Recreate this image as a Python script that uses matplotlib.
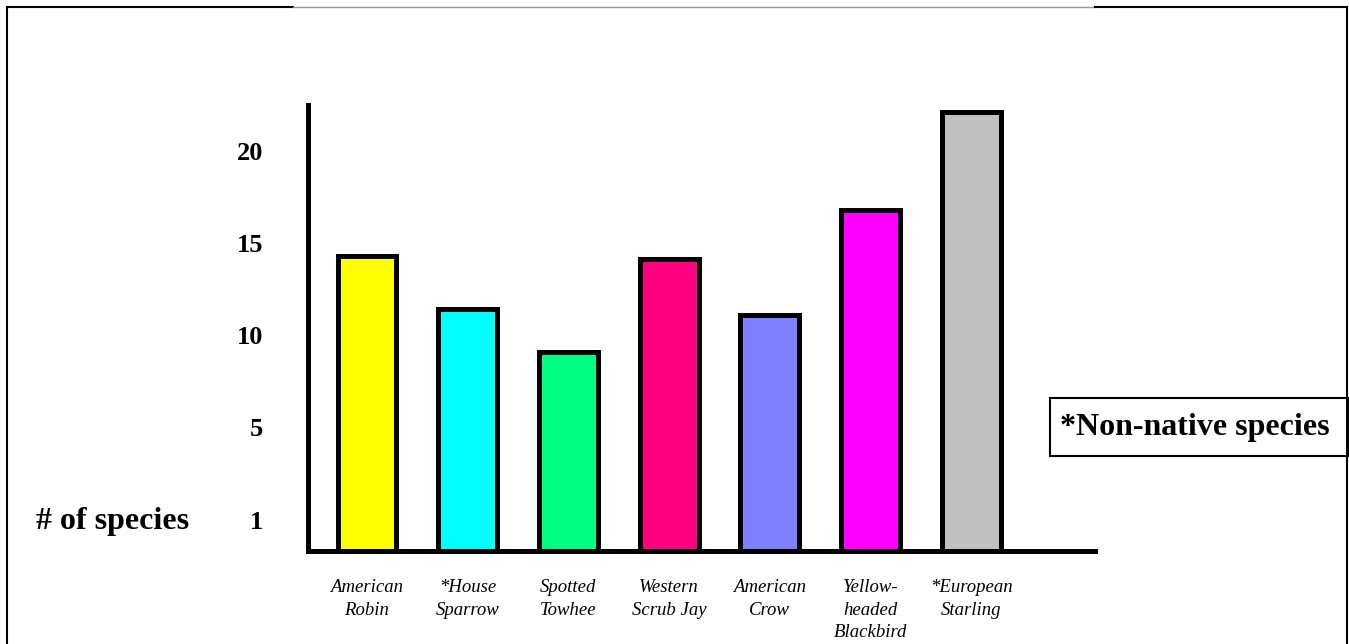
import matplotlib
matplotlib.use("Agg")
import matplotlib.pyplot as plt
from matplotlib.lines import Line2D
from matplotlib.patches import Rectangle

# ---- data ----
categories = ["American\nRobin", "*House\nSparrow", "Spotted\nTowhee",
              "Western\nScrub Jay", "American\nCrow", "Yellow-\nheaded\nBlackbird",
              "*European\nStarling"]
values = [14.3, 11.4, 9.1, 14.1, 11.1, 16.8, 22.1]
colors = ["#FFFF00", "#00FFFF", "#00FF80", "#FF0080", "#8080FF", "#FF00FF", "#C0C0C0"]
ytick_pos = [0, 5, 10, 15, 20]
ytick_labels = ["1", "5", "10", "15", "20"]
ylabel_text = "# of species"
note_text = "*Non-native species"

W, H = 1349, 644
fig = plt.figure(figsize=(W / 100, H / 100), dpi=100)
fig.patch.set_facecolor("white")

ax = fig.add_axes([308 / W, 1 - 551 / H, (1095 - 308) / W, (551 - 105) / H])
ax.set_facecolor("none")

ymin, ymax = -1.7, 22.47
x = list(range(len(categories)))
ax.bar(x, [v - ymin for v in values], bottom=ymin, width=0.585,
       color=colors, edgecolor="black", linewidth=3.6, zorder=2)

ax.set_xlim(-0.586, 7.23)
ax.set_ylim(ymin, ymax)

for s in ["top", "right"]:
    ax.spines[s].set_visible(False)
for s in ["left", "bottom"]:
    ax.spines[s].set_linewidth(3.6)
    ax.spines[s].set_color("black")
    ax.spines[s].set_zorder(3)

ax.set_yticks(ytick_pos)
ax.set_yticklabels(ytick_labels, fontfamily="Liberation Serif",
                   fontweight="bold", fontsize=19)
ax.set_xticks(x)
ax.set_xticklabels(categories, fontfamily="Liberation Serif",
                   fontstyle="italic", fontsize=13.5, linespacing=1.45)
ax.tick_params(axis="y", length=0, pad=32)
ax.tick_params(axis="x", length=0, pad=20)

# y label
fig.text(113 / W, 1 - 522 / H, ylabel_text, ha="center", va="center",
         fontfamily="Liberation Serif", fontweight="bold", fontsize=23)

# note box
fig.patches.append(Rectangle((1050 / W, 1 - 456 / H), (1349 - 1050) / W, 58 / H,
                             transform=fig.transFigure, facecolor="white",
                             edgecolor="black", linewidth=1.5))
fig.text(1060 / W, 1 - 428 / H, note_text, ha="left", va="center",
         fontfamily="Liberation Serif", fontweight="bold", fontsize=23)

# page frame
def fline(xs, ys, color="black", lw=1.5):
    fig.lines.append(Line2D([v / W for v in xs], [1 - v / H for v in ys],
                            transform=fig.transFigure, color=color, linewidth=lw))

fline([7, 7], [7, 644])
fline([1347, 1347], [7, 644])
fline([7, 293], [7, 7])
fline([293, 1095], [7, 7], color="#999999", lw=1.0)
fline([1095, 1347], [7, 7])

fig.savefig("out.png", dpi=100, facecolor="white")
